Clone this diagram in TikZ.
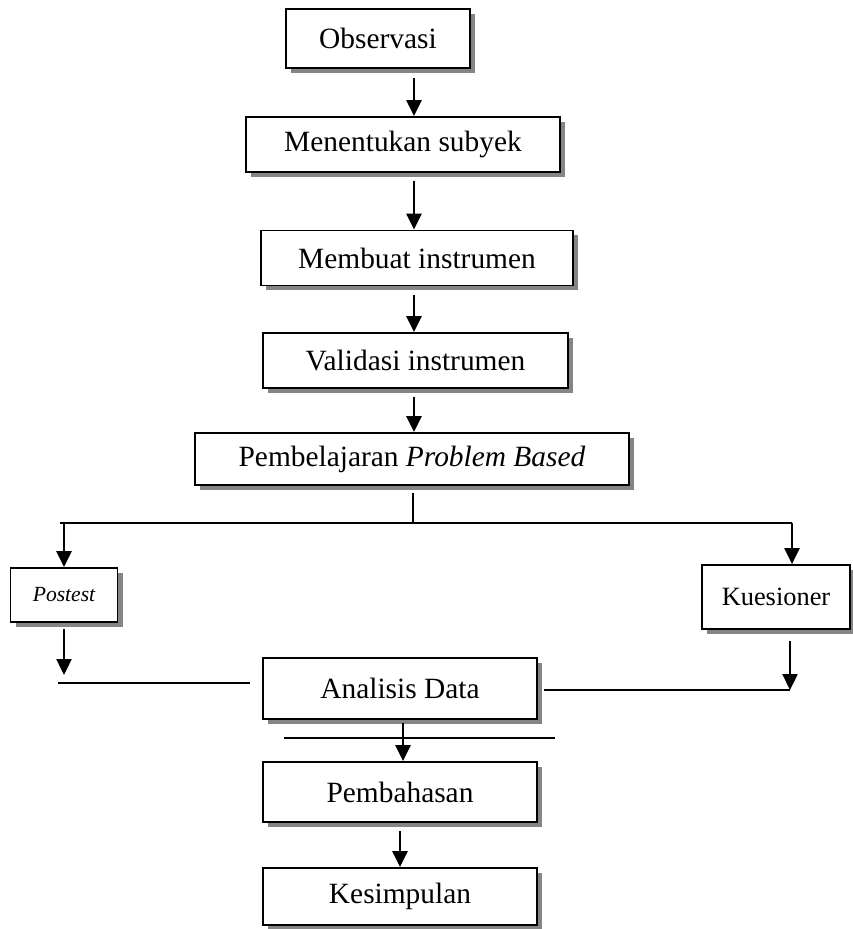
\documentclass[tikz,border=0pt]{standalone}
\usepackage{fontspec}
\setmainfont{Liberation Serif}
\usetikzlibrary{arrows.meta, shadows}

\begin{document}
\begin{tikzpicture}[
  x=0.5pt, y=-0.5pt,
  every node/.style={font=\fontsize{14.7}{17}\selectfont},
  stage/.style={draw, line width=0.9pt, fill=white, inner sep=0pt,
                drop shadow={shadow xshift=2.5pt, shadow yshift=-2.5pt,
                fill=black!48, opacity=1}},
  flow/.style={-{Triangle[width=7.5pt, length=8pt]}, line width=1.2pt},
  rule/.style={line width=0.7pt},
]
  \useasboundingbox (0,0) rectangle (852,929);

  % Main column
  \node[stage, minimum width=92pt, minimum height=29.5pt] (obs) at (378,38.5) {Observasi};
  \node[stage, minimum width=157pt, minimum height=27.5pt] (sub) at (403,144.5) {Menentukan subyek};
  \node[stage, minimum width=156pt, minimum height=27.5pt] (ins) at (417,258) {Membuat instrumen};
  \node[stage, minimum width=152.5pt, minimum height=27.5pt] (val) at (415.5,360.5) {Validasi instrumen};
  \node[stage, minimum width=217pt, minimum height=26pt] (pbl) at (412,459) {Pembelajaran \textit{Problem Based}};

  % Side branches
  \node[stage, minimum width=53.5pt, minimum height=27pt,
        font=\fontsize{10.8}{13}\selectfont\itshape] (post) at (64,595) {Postest};
  \node[stage, minimum width=74pt, minimum height=32pt,
        font=\fontsize{13.2}{15}\selectfont] (kue) at (776,597) {Kuesioner};

  % Lower column
  \node[stage, minimum width=137pt, minimum height=30.5pt] (ana) at (400,688.5) {Analisis Data};
  \node[stage, minimum width=137pt, minimum height=30pt] (pem) at (400,792) {Pembahasan};
  \node[stage, minimum width=137pt, minimum height=28.5pt] (kes) at (400,896.5) {Kesimpulan};

  % Arrows down the main column
  \coordinate (axis) at (414,0);
  \draw[flow] ([yshift=-4.5pt]obs.south -| axis) -- (sub.north -| axis);
  \draw[flow] ([yshift=-4pt]sub.south -| axis) -- (ins.north -| axis);
  \draw[flow] ([yshift=-4.5pt]ins.south -| axis) -- (val.north -| axis);
  \draw[flow] ([yshift=-4pt]val.south -| axis) -- (pbl.north -| axis);

  % Split to postest and kuesioner
  \coordinate (split) at (413,523);
  \coordinate (brL) at (60,523);
  \coordinate (brR) at (792,523);
  \draw[line width=1pt] ([yshift=-3.5pt]pbl.south -| split) -- (split);
  \draw[rule] (brL) -- (brR);
  \draw[flow] (post.north |- brL) -- (post.north);
  \draw[flow] (brR) -- (brR |- kue.north);

  % Back into analisis data
  \coordinate (inL) at (58,683);
  \coordinate (inR) at (790,690);
  \draw[flow] ([yshift=-3pt]post.south) -- ([yshift=4pt]post.south |- inL);
  \draw[rule] (inL) -- ([xshift=-6pt]ana.west |- inL);
  \draw[flow] ([yshift=-5.5pt]kue.south -| inR) -- (inR);
  \draw[rule] ([xshift=3pt]ana.east |- inR) -- (inR);

  % Line under analisis data
  \coordinate (cutL) at (284,738);
  \coordinate (cutR) at (555,738);
  \draw[rule] (cutL) -- (cutR);

  \draw[flow] ([xshift=1.5pt, yshift=-1.5pt]ana.south) -- ([xshift=1.5pt]pem.north);
  \draw[flow] ([yshift=-4pt]pem.south) -- (kes.north);
\end{tikzpicture}
\end{document}
